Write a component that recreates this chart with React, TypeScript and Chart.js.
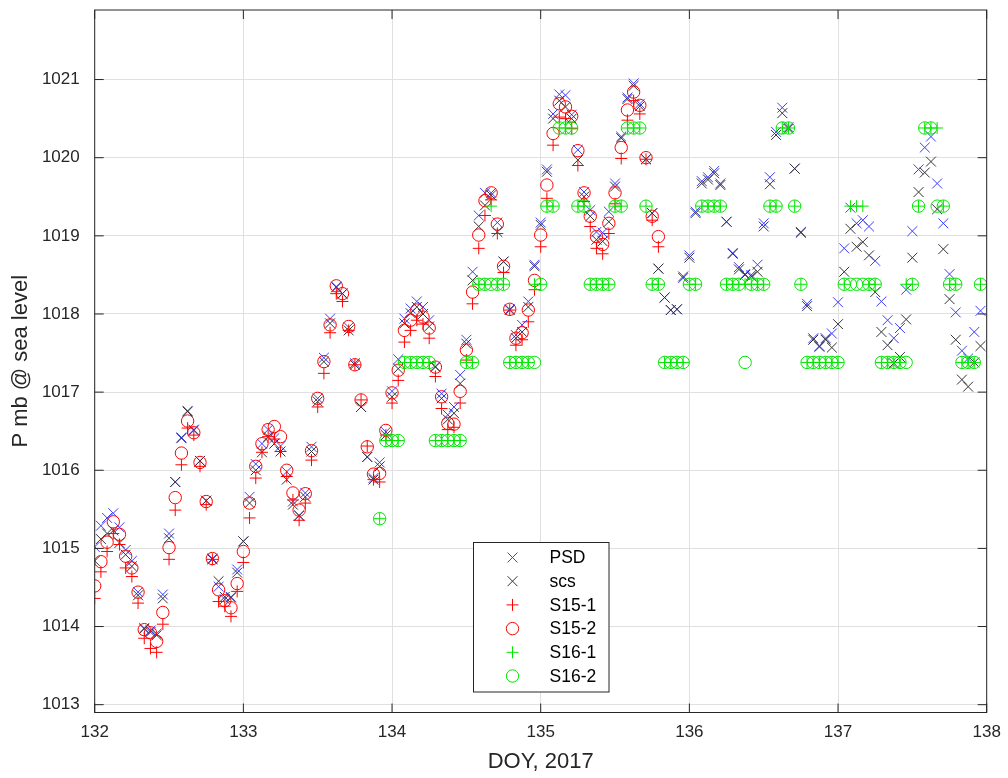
import React, { useEffect, useRef } from 'react';
import { Chart, registerables } from 'chart.js';

Chart.register(...registerables);

const FONT = '"Liberation Sans", Arial, Helvetica, sans-serif';

// Time base: hourly samples starting at DOY 132.0
const DAY0 = 132;
const xTicks = [132, 133, 134, 135, 136, 137, 138];
const yTicks = [1013, 1014, 1015, 1016, 1017, 1018, 1019, 1020, 1021];

const psd = [
  1015.02, 1015.29, 1015.39, 1015.45, 1015.27, 1014.98, 1014.84, 1014.44, 1013.98, 1013.95, 1013.91, 1014.41,
  1015.19, 1015.85, 1016.42, 1016.76, 1016.52, 1016.12, 1015.61, 1014.87, 1014.51, 1014.35, 1014.38, 1014.73,
  1015.09, 1015.66, 1016.08, 1016.34, 1016.52, 1016.41, 1016.31, 1015.98, 1015.60, 1015.42, 1015.71, 1016.30,
  1016.92, 1017.44, 1017.94, 1018.35, 1018.26, 1017.83, 1017.37, 1016.81, 1016.17, 1015.90, 1016.10, 1016.49,
  1017.01, 1017.42, 1017.94, 1018.07, 1018.16, 1018.09, 1017.92, 1017.33, 1016.98, 1016.71, 1016.81, 1017.22,
  1017.67, 1018.54, 1019.26, 1019.55, 1019.55, 1019.17, 1018.67, 1018.06, 1017.73, 1017.86, 1018.16, 1018.63,
  1019.17, 1019.85, 1020.56, 1020.81, 1020.80, 1020.55, 1020.10, 1019.56, 1019.33, 1019.05, 1019.04, 1019.31,
  1019.67, 1020.27, 1020.77, 1020.95, 1020.69, 1019.98, 1019.29, 1018.58, 1018.21, 1018.05, 1018.06, 1018.46,
  1018.75, 1019.31, 1019.70, 1019.75, 1019.83, 1019.67, 1019.18, 1018.78, 1018.60, 1018.51, 1018.50, 1018.63,
  1019.16, 1019.75, 1020.33, 1020.64, 1020.39, 1019.86, 1019.05, 1018.13, 1017.69, 1017.59, 1017.69, 1017.75,
  1018.15, 1018.84, 1019.36, 1019.16, 1019.20, 1019.12, 1018.68, 1018.16, 1017.92, 1017.69, 1017.82, 1018.31,
  1019.06, 1019.85, 1020.13, 1020.27, 1019.67, 1019.16, 1018.51, 1018.02, 1017.53, 1017.43, 1017.77, 1018.04,
];

const scs = [
  1014.84, 1015.12, 1015.19, 1015.23, 1015.07, 1014.92, 1014.77, 1014.40, 1013.97, 1013.93, 1013.89, 1014.36,
  1015.13, 1015.85, 1016.41, 1016.75, 1016.51, 1016.12, 1015.61, 1014.86, 1014.58, 1014.38, 1014.37, 1014.69,
  1015.09, 1015.58, 1016.00, 1016.23, 1016.43, 1016.34, 1016.24, 1015.88, 1015.56, 1015.42, 1015.66, 1016.24,
  1016.88, 1017.39, 1017.88, 1018.34, 1018.26, 1017.79, 1017.35, 1016.81, 1016.17, 1015.88, 1016.05, 1016.45,
  1016.94, 1017.30, 1017.88, 1018.01, 1018.09, 1018.00, 1017.84, 1017.32, 1016.92, 1016.65, 1016.73, 1017.11,
  1017.62, 1018.43, 1019.12, 1019.39, 1019.52, 1019.05, 1018.67, 1018.05, 1017.69, 1017.77, 1018.09, 1018.61,
  1019.14, 1019.82, 1020.50, 1020.73, 1020.65, 1020.50, 1019.97, 1019.50, 1019.25, 1018.95, 1018.93, 1019.18,
  1019.63, 1020.25, 1020.75, 1020.92, 1020.66, 1019.98, 1019.29, 1018.58, 1018.21, 1018.05, 1018.06, 1018.48,
  1018.72, 1019.29, 1019.67, 1019.72, 1019.80, 1019.65, 1019.18, 1018.77, 1018.57, 1018.50, 1018.48, 1018.54,
  1019.12, 1019.66, 1020.29, 1020.57, 1020.37, 1019.86, 1019.04, 1018.10, 1017.67, 1017.58, 1017.67, 1017.57,
  1017.87, 1018.54, 1019.09, 1018.86, 1018.92, 1018.75, 1018.28, 1017.77, 1017.60, 1017.37, 1017.45, 1017.93,
  1018.72, 1019.56, 1019.81, 1019.95, 1019.34, 1018.83, 1018.19, 1017.67, 1017.16, 1017.07, 1017.38, 1017.59,
];

const s15_1 = [
  1014.36, 1014.70, 1014.96, 1015.19, 1015.05, 1014.75, 1014.64, 1014.30, 1013.85, 1013.72, 1013.67, 1014.03,
  1014.86, 1015.49, 1016.07, 1016.54, 1016.45, 1016.05, 1015.56, 1014.86, 1014.32, 1014.26, 1014.13, 1014.45,
  1014.82, 1015.39, 1015.90, 1016.23, 1016.43, 1016.40, 1016.24, 1015.92, 1015.62, 1015.36, 1015.58, 1016.13,
  1016.81, 1017.24, 1017.76, 1018.26, 1018.16, 1017.79, 1017.35, 1016.90, 1016.31, 1015.88, 1015.85, 1016.45,
  1016.86, 1017.15, 1017.64, 1017.79, 1017.92, 1017.87, 1017.69, 1017.20, 1016.79, 1016.52, 1016.55, 1016.86,
  1017.41, 1018.13, 1018.84, 1019.26, 1019.46, 1019.03, 1018.53, 1018.05, 1017.60, 1017.67, 1017.90, 1018.31,
  1018.86, 1019.48, 1020.16, 1020.52, 1020.50, 1020.37, 1019.90, 1019.44, 1019.12, 1018.84, 1018.77, 1019.03,
  1019.41, 1019.99, 1020.48, 1020.73, 1020.56, 1019.98, 1019.20, 1018.86,
];

const s15_2 = [
  1014.52, 1014.83, 1015.08, 1015.34, 1015.18, 1014.90, 1014.75, 1014.44, 1013.96, 1013.92, 1013.81, 1014.18,
  1015.01, 1015.65, 1016.22, 1016.63, 1016.48, 1016.10, 1015.60, 1014.87, 1014.47, 1014.33, 1014.24, 1014.55,
  1014.96, 1015.58, 1016.05, 1016.34, 1016.52, 1016.56, 1016.43, 1016.00, 1015.71, 1015.49, 1015.70, 1016.25,
  1016.92, 1017.39, 1017.86, 1018.36, 1018.26, 1017.84, 1017.35, 1016.90, 1016.30, 1015.95, 1015.96, 1016.51,
  1016.99, 1017.28, 1017.79, 1017.92, 1018.05, 1017.96, 1017.82, 1017.32, 1016.94, 1016.60, 1016.59, 1017.01,
  1017.54, 1018.28, 1019.01, 1019.45, 1019.55, 1019.15, 1018.61, 1018.06, 1017.69, 1017.76, 1018.05, 1018.43,
  1019.01, 1019.65, 1020.31, 1020.69, 1020.65, 1020.53, 1020.09, 1019.55, 1019.25, 1018.99, 1018.89, 1019.16,
  1019.55, 1020.13, 1020.61, 1020.84, 1020.67, 1020.00, 1019.25, 1018.99,
];

// S16 series start at hour 46 (DOY ~133.92)
const S16_START = 46;
const s16_1 = [
  1015.38, 1016.38, 1016.38, 1016.38, 1017.38, 1017.38, 1017.38, 1017.38, 1017.38, 1016.38, 1016.38, 1016.38,
  1016.38, 1016.38, 1017.38, 1017.38, 1018.38, 1018.38, 1019.38, 1018.38, 1018.38, 1017.38, 1017.38, 1017.38,
  1017.38, 1018.38, 1018.38, 1019.38, 1019.38, 1020.38, 1020.38, 1020.38, 1019.38, 1019.38, 1018.38, 1018.38,
  1018.38, 1018.38, 1019.38, 1019.38, 1020.38, 1020.38, 1020.38, 1019.38, 1018.38, 1018.38, 1017.38, 1017.38,
  1017.38, 1017.38, 1018.38, 1018.38, 1019.38, 1019.38, 1019.38, 1019.38, 1018.38, 1018.38, 1018.38, 1018.38,
  1018.38, 1018.38, 1018.38, 1019.38, 1019.38, 1020.38, 1020.38, 1019.38, 1018.38, 1017.38, 1017.38, 1017.38,
  1017.38, 1017.38, 1017.38, 1018.38, 1019.38, 1019.38, 1019.38, 1018.38, 1018.38, 1017.38, 1017.38, 1017.38,
  1017.38, 1018.38, 1018.38, 1019.38, 1020.38, 1020.38, 1020.38, 1019.38, 1018.38, 1018.38, 1017.38, 1017.38,
  1017.38, 1018.38,
];

const s16_2 = [
  1015.38, 1016.38, 1016.38, 1016.38, 1017.38, 1017.38, 1017.38, 1017.38, 1017.38, 1016.38, 1016.38, 1016.38,
  1016.38, 1016.38, 1017.38, 1017.38, 1018.38, 1018.38, 1018.38, 1018.38, 1018.38, 1017.38, 1017.38, 1017.38,
  1017.38, 1017.38, 1018.38, 1019.38, 1019.38, 1020.38, 1020.38, 1020.38, 1019.38, 1019.38, 1018.38, 1018.38,
  1018.38, 1018.38, 1019.38, 1019.38, 1020.38, 1020.38, 1020.38, 1019.38, 1018.38, 1018.38, 1017.38, 1017.38,
  1017.38, 1017.38, 1018.38, 1018.38, 1019.38, 1019.38, 1019.38, 1019.38, 1018.38, 1018.38, 1018.38, 1017.38,
  1018.38, 1018.38, 1018.38, 1019.38, 1019.38, 1020.38, 1020.38, 1019.38, 1018.38, 1017.38, 1017.38, 1017.38,
  1017.38, 1017.38, 1017.38, 1018.38, 1018.38, 1018.38, 1018.38, 1018.38, 1018.38, 1017.38, 1017.38, 1017.38,
  1017.38, 1017.38, 1018.38, 1019.38, 1020.38, 1020.38, 1019.38, 1019.38, 1018.38, 1018.38, 1017.38, 1017.38,
  1017.38, 1018.38,
];

const seriesNames = ['PSD', 'scs', 'S15-1', 'S15-2', 'S16-1', 'S16-2'];

function toPoints(values: number[], startHour: number) {
  return values.map((v, i) => ({ x: DAY0 + (startHour + i) / 24, y: v }));
}

type Marker = 'crossRot' | 'cross' | 'circle';

function drawMarker(ctx: CanvasRenderingContext2D, style: Marker, x: number, y: number, r: number) {
  ctx.beginPath();
  if (style === 'circle') {
    ctx.arc(x, y, r, 0, Math.PI * 2);
  } else if (style === 'cross') {
    ctx.moveTo(x - r, y);
    ctx.lineTo(x + r, y);
    ctx.moveTo(x, y - r);
    ctx.lineTo(x, y + r);
  } else {
    const d = r * Math.SQRT1_2;
    ctx.moveTo(x - d, y - d);
    ctx.lineTo(x + d, y + d);
    ctx.moveTo(x - d, y + d);
    ctx.lineTo(x + d, y - d);
  }
  ctx.stroke();
}

const framePlugin = {
  id: 'matlabFrame',
  afterDraw(chart: any) {
    const { ctx, chartArea: a, scales } = chart;
    const xs = scales.x;
    const ys = scales.y;
    ctx.save();
    ctx.strokeStyle = '#262626';
    ctx.lineWidth = 1;
    ctx.strokeRect(a.left, a.top, a.right - a.left, a.bottom - a.top);
    const L = 9;
    ctx.beginPath();
    xTicks.forEach((v) => {
      const px = xs.getPixelForValue(v);
      ctx.moveTo(px, a.bottom);
      ctx.lineTo(px, a.bottom - L);
      ctx.moveTo(px, a.top);
      ctx.lineTo(px, a.top + L);
    });
    yTicks.forEach((v) => {
      const py = ys.getPixelForValue(v);
      ctx.moveTo(a.left, py);
      ctx.lineTo(a.left + L, py);
      ctx.moveTo(a.right, py);
      ctx.lineTo(a.right - L, py);
    });
    ctx.stroke();

    // Legend (inside axes, near bottom centre)
    const bx = 473.5, by = 542.5, bw = 135.5, bh = 149.5;
    ctx.fillStyle = '#ffffff';
    ctx.fillRect(bx, by, bw, bh);
    ctx.strokeStyle = '#262626';
    ctx.strokeRect(bx, by, bw, bh);
    ctx.font = `17.5px ${FONT}`;
    ctx.textAlign = 'left';
    ctx.textBaseline = 'middle';
    chart.data.datasets.forEach((ds: any, i: number) => {
      const ry = by + 15 + i * 23.7;
      ctx.strokeStyle = ds.borderColor;
      ctx.lineWidth = 1;
      drawMarker(ctx, ds.pointStyle, bx + 39, ry, ds.pointRadius);
      ctx.fillStyle = '#000000';
      ctx.fillText(ds.label, bx + 76, ry + 1);
    });
    ctx.restore();
  },
};

export default function App() {
  const ref = useRef<HTMLCanvasElement | null>(null);

  useEffect(() => {
    document.body.style.margin = '0';
    const canvas = ref.current;
    if (!canvas) return;

    const mk = (label: string, data: any[], color: string, style: Marker, r: number, order: number) => ({
      label,
      data,
      showLine: false,
      pointStyle: style,
      pointRadius: r,
      pointHoverRadius: r,
      pointBorderWidth: 1,
      borderWidth: 1,
      borderColor: color,
      pointBorderColor: color,
      backgroundColor: 'rgba(0,0,0,0)',
      pointBackgroundColor: 'rgba(0,0,0,0)',
      order,
    });

    const datasets = [
      mk(seriesNames[0], toPoints(psd, 0), '#3c3cff', 'crossRot', 7, 6),
      mk(seriesNames[1], toPoints(scs, 0), '#333333', 'crossRot', 7, 5),
      mk(seriesNames[2], toPoints(s15_1, 0), '#ff0000', 'cross', 6, 4),
      mk(seriesNames[3], toPoints(s15_2, 0), '#ff0000', 'circle', 6.2, 3),
      mk(seriesNames[4], toPoints(s16_1, S16_START), '#00e600', 'cross', 6, 2),
      mk(seriesNames[5], toPoints(s16_2, S16_START), '#00e600', 'circle', 6.2, 1),
    ];

    const chart = new Chart(canvas, {
      type: 'scatter',
      data: { datasets },
      plugins: [framePlugin],
      options: {
        responsive: false,
        animation: false,
        events: [],
        layout: { padding: { left: 0, right: 21.3, top: 10, bottom: 0 } },
        plugins: { legend: { display: false }, tooltip: { enabled: false } },
        scales: {
          x: {
            type: 'linear',
            min: 132,
            max: 138,
            afterBuildTicks: (s: any) => {
              s.ticks = xTicks.map((v) => ({ value: v }));
            },
            afterFit: (s: any) => {
              s.height = 65.5;
              s.paddingLeft = 0;
              s.paddingRight = 0;
            },
            ticks: {
              color: '#262626',
              font: { family: FONT, size: 17 },
              padding: 10,
              maxRotation: 0,
              autoSkip: false,
              callback: (v: any) => String(v),
            },
            grid: { color: '#e0e0e0', drawTicks: false, lineWidth: 1 },
            border: { display: false },
            title: {
              display: true,
              text: 'DOY, 2017',
              color: '#262626',
              font: { family: FONT, size: 22 },
              padding: { top: 0, bottom: 2.8 },
            },
          },
          y: {
            type: 'linear',
            min: 1012.9,
            max: 1021.89,
            afterBuildTicks: (s: any) => {
              s.ticks = yTicks.map((v) => ({ value: v }));
            },
            afterFit: (s: any) => {
              s.width = 94.7;
              s.paddingTop = 0;
              s.paddingBottom = 0;
            },
            ticks: {
              color: '#262626',
              font: { family: FONT, size: 17 },
              padding: 15,
              autoSkip: false,
              callback: (v: any) => String(v),
            },
            grid: { color: '#e0e0e0', drawTicks: false, lineWidth: 1 },
            border: { display: false },
            title: {
              display: true,
              text: 'P mb @ sea level',
              color: '#262626',
              font: { family: FONT, size: 22 },
              padding: { top: 8, bottom: 0 },
            },
          },
        },
      },
    } as any);

    return () => chart.destroy();
  }, []);

  return (
    <div style={{ position: 'relative', width: 1008, height: 778, background: '#ffffff' }}>
      <canvas ref={ref} width={1008} height={778} style={{ display: 'block', width: 1008, height: 778 }} />
    </div>
  );
}
